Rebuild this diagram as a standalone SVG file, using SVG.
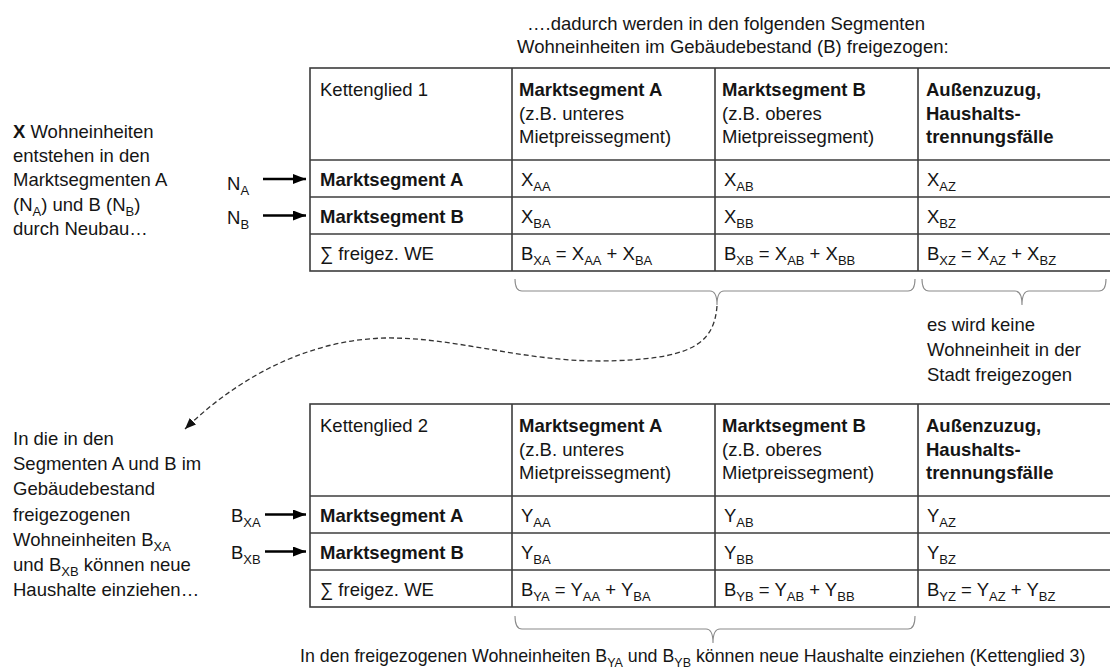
<svg xmlns="http://www.w3.org/2000/svg" width="1110" height="670" viewBox="0 0 1110 670">
<style>
text{font-family:"Liberation Sans",Arial,sans-serif;font-size:18.5px;fill:#151515}
.b{font-weight:bold}
.s{font-size:13px}
.bn{font-size:17.8px}
.bn .s{font-size:12.5px}
.tbl{fill:none;stroke:#3c3c3c;stroke-width:1.6}
.grid{stroke:#3c3c3c;stroke-width:1.6}
.brace{fill:none;stroke:#8a8a8a;stroke-width:1.1}
.arw{stroke:#000;stroke-width:2.6;marker-end:url(#ah)}
.dash{fill:none;stroke:#333;stroke-width:1.3;stroke-dasharray:5 3;marker-end:url(#ah2)}
</style>
<defs>
<marker id="ah" markerUnits="userSpaceOnUse" viewBox="0 0 13 10" markerWidth="13" markerHeight="10" refX="13" refY="5" orient="auto"><path d="M0,0 L13,5 L0,10 z" fill="#000"/></marker>
<marker id="ah2" markerUnits="userSpaceOnUse" viewBox="0 0 11 9" markerWidth="11" markerHeight="9" refX="11" refY="4.5" orient="auto"><path d="M0,0 L11,4.5 L0,9 z" fill="#111"/></marker>
</defs>
<rect width="1110" height="670" fill="#fff"/>

<g id="top-note">
<text x="527" y="30">….dadurch werden in den folgenden Segmenten</text>
<text x="517" y="53">Wohneinheiten im Gebäudebestand (B) freigezogen:</text>
</g>

<g id="left-note-1">
<text x="13" y="137.5"><tspan class="b">X</tspan> Wohneinheiten</text>
<text x="13" y="162">entstehen in den</text>
<text x="13" y="186">Marktsegmenten A</text>
<text x="13" y="210.5">(N<tspan class="s" dy="5">A</tspan><tspan dy="-5">) und B (N</tspan><tspan class="s" dy="5">B</tspan><tspan dy="-5">)</tspan></text>
<text x="13" y="235">durch Neubau…</text>
<text x="227" y="190">N<tspan class="s" dy="5">A</tspan></text>
<text x="227" y="224">N<tspan class="s" dy="5">B</tspan></text>
</g>

<g id="table-1">
<rect class="tbl" x="310" y="68" width="802" height="203"/>
<line class="grid" x1="310" y1="160" x2="1112" y2="160"/>
<line class="grid" x1="310" y1="197" x2="1112" y2="197"/>
<line class="grid" x1="310" y1="234" x2="1112" y2="234"/>
<line class="grid" x1="512" y1="68" x2="512" y2="271"/>
<line class="grid" x1="715" y1="68" x2="715" y2="271"/>
<line class="grid" x1="918" y1="68" x2="918" y2="271"/>
<text x="320" y="96">Kettenglied 1</text>
<text x="519" y="96" class="b">Marktsegment A</text>
<text x="519" y="119.5">(z.B. unteres</text>
<text x="519" y="143">Mietpreissegment)</text>
<text x="722" y="96" class="b">Marktsegment B</text>
<text x="722" y="119.5">(z.B. oberes</text>
<text x="722" y="143">Mietpreissegment)</text>
<text x="926" y="96" class="b">Außenzuzug,</text>
<text x="926" y="119.5" class="b">Haushalts-</text>
<text x="926" y="143" class="b">trennungsfälle</text>
<text x="320" y="186" class="b">Marktsegment A</text>
<text x="320" y="223" class="b">Marktsegment B</text>
<text x="320" y="260">∑ freigez. WE</text>
<text x="521" y="186">X<tspan class="s" dy="5">AA</tspan></text>
<text x="724" y="186">X<tspan class="s" dy="5">AB</tspan></text>
<text x="927" y="186">X<tspan class="s" dy="5">AZ</tspan></text>
<text x="521" y="223">X<tspan class="s" dy="5">BA</tspan></text>
<text x="724" y="223">X<tspan class="s" dy="5">BB</tspan></text>
<text x="927" y="223">X<tspan class="s" dy="5">BZ</tspan></text>
<text x="521" y="260">B<tspan class="s" dy="5">XA</tspan><tspan dy="-5"> = X</tspan><tspan class="s" dy="5">AA</tspan><tspan dy="-5"> + X</tspan><tspan class="s" dy="5">BA</tspan></text>
<text x="724" y="260">B<tspan class="s" dy="5">XB</tspan><tspan dy="-5"> = X</tspan><tspan class="s" dy="5">AB</tspan><tspan dy="-5"> + X</tspan><tspan class="s" dy="5">BB</tspan></text>
<text x="927" y="260">B<tspan class="s" dy="5">XZ</tspan><tspan dy="-5"> = X</tspan><tspan class="s" dy="5">AZ</tspan><tspan dy="-5"> + X</tspan><tspan class="s" dy="5">BZ</tspan></text>
</g>

<g id="side-note">
<text x="927" y="331">es wird keine</text>
<text x="927" y="356">Wohneinheit in der</text>
<text x="927" y="381">Stadt freigezogen</text>
</g>

<g id="left-note-2">
<text x="13" y="445">In die in den</text>
<text x="13" y="470">Segmenten A und B im</text>
<text x="13" y="495">Gebäudebestand</text>
<text x="13" y="520.5">freigezogenen</text>
<text x="13" y="545.5">Wohneinheiten B<tspan class="s" dy="5">XA</tspan></text>
<text x="13" y="571">und B<tspan class="s" dy="5">XB</tspan><tspan dy="-5"> können neue</tspan></text>
<text x="13" y="596">Haushalte einziehen…</text>
<text x="231" y="522">B<tspan class="s" dy="5">XA</tspan></text>
<text x="231" y="559">B<tspan class="s" dy="5">XB</tspan></text>
</g>

<g id="table-2">
<rect class="tbl" x="310" y="404" width="802" height="203"/>
<line class="grid" x1="310" y1="496" x2="1112" y2="496"/>
<line class="grid" x1="310" y1="533" x2="1112" y2="533"/>
<line class="grid" x1="310" y1="570" x2="1112" y2="570"/>
<line class="grid" x1="512" y1="404" x2="512" y2="607"/>
<line class="grid" x1="715" y1="404" x2="715" y2="607"/>
<line class="grid" x1="918" y1="404" x2="918" y2="607"/>
<text x="320" y="432">Kettenglied 2</text>
<text x="519" y="432" class="b">Marktsegment A</text>
<text x="519" y="455.5">(z.B. unteres</text>
<text x="519" y="479">Mietpreissegment)</text>
<text x="722" y="432" class="b">Marktsegment B</text>
<text x="722" y="455.5">(z.B. oberes</text>
<text x="722" y="479">Mietpreissegment)</text>
<text x="926" y="432" class="b">Außenzuzug,</text>
<text x="926" y="455.5" class="b">Haushalts-</text>
<text x="926" y="479" class="b">trennungsfälle</text>
<text x="320" y="522" class="b">Marktsegment A</text>
<text x="320" y="559" class="b">Marktsegment B</text>
<text x="320" y="596">∑ freigez. WE</text>
<text x="521" y="522">Y<tspan class="s" dy="5">AA</tspan></text>
<text x="724" y="522">Y<tspan class="s" dy="5">AB</tspan></text>
<text x="927" y="522">Y<tspan class="s" dy="5">AZ</tspan></text>
<text x="521" y="559">Y<tspan class="s" dy="5">BA</tspan></text>
<text x="724" y="559">Y<tspan class="s" dy="5">BB</tspan></text>
<text x="927" y="559">Y<tspan class="s" dy="5">BZ</tspan></text>
<text x="521" y="596">B<tspan class="s" dy="5">YA</tspan><tspan dy="-5"> = Y</tspan><tspan class="s" dy="5">AA</tspan><tspan dy="-5"> + Y</tspan><tspan class="s" dy="5">BA</tspan></text>
<text x="724" y="596">B<tspan class="s" dy="5">YB</tspan><tspan dy="-5"> = Y</tspan><tspan class="s" dy="5">AB</tspan><tspan dy="-5"> + Y</tspan><tspan class="s" dy="5">BB</tspan></text>
<text x="927" y="596">B<tspan class="s" dy="5">YZ</tspan><tspan dy="-5"> = Y</tspan><tspan class="s" dy="5">AZ</tspan><tspan dy="-5"> + Y</tspan><tspan class="s" dy="5">BZ</tspan></text>
</g>

<g id="bottom-note">
<text class="bn" x="300" y="662">In den freigezogenen Wohneinheiten B<tspan class="s" dy="5">YA</tspan><tspan dy="-5"> und B</tspan><tspan class="s" dy="5">YB</tspan><tspan dy="-5"> können neue Haushalte einziehen (Kettenglied 3)</tspan></text>
</g>

<g id="connectors">
<line class="arw" x1="263" y1="179" x2="306" y2="179"/>
<line class="arw" x1="263" y1="215.5" x2="306" y2="215.5"/>
<line class="arw" x1="265" y1="514.5" x2="306" y2="514.5"/>
<line class="arw" x1="265" y1="551.5" x2="306" y2="551.5"/>
<path class="brace" d="M515,279 Q515,291 522,291 L710,291 Q717,291 717,305 Q717,291 724,291 L908,291 Q915,291 915,279"/>
<path class="brace" d="M922,279 Q922,291 929,291 L1015,291 Q1022,291 1022,305 Q1022,291 1029,291 L1099,291 Q1106,291 1106,279"/>
<path class="brace" d="M515,616 Q515,629 522,629 L706,629 Q713,629 713,643 Q713,629 720,629 L908,629 Q915,629 915,616"/>
<path class="dash" d="M717,306 C714,345 690,360 600,361 C520,361 455,337 385,338 C300,340 230,385 185,429"/>
</g>
</svg>
